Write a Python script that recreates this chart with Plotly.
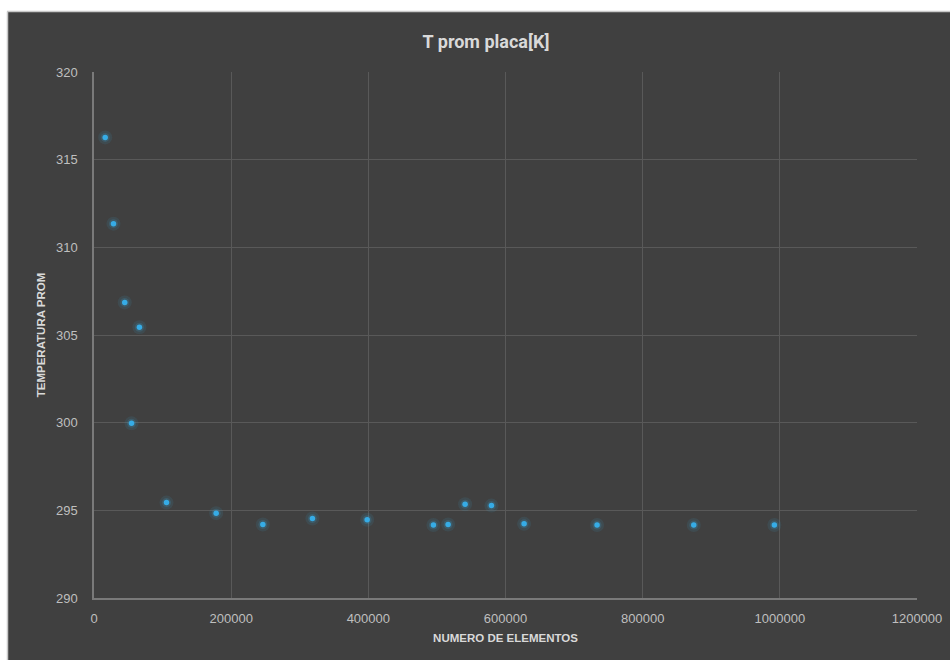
import plotly.graph_objects as go

# Mesh size (number of elements) and mean plate temperature [K]
num_elementos = [16300, 28400, 44800, 54700, 66200, 105700, 178100, 246200,
                 318500, 398300, 494900, 516300, 541100, 579500, 627100,
                 733500, 874500, 992000]
temp_prom = [316.27, 311.35, 306.86, 299.96, 305.44, 295.44, 294.84, 294.19,
             294.53, 294.46, 294.16, 294.19, 295.35, 295.27, 294.23,
             294.16, 294.16, 294.16]

x_ticks = [0, 200000, 400000, 600000, 800000, 1000000, 1200000]
y_ticks = [290, 295, 300, 305, 310, 315, 320]

W, H = 950, 660
L, R, T, B = 94, 33, 72, 62
PW, PH = W - L - R, H - T - B

BG = "#404040"
GRID = "#595959"
AXIS = "#7a7a7a"
TXT = "#bfbfbf"
TITLE = "#d9d9d9"
DOT = "#36ace6"


def px_x(px):
    return (px - L) / PW


def px_y(py):
    return (H - B - py) / PH


fig = go.Figure()

# soft halo around each point
fig.add_trace(go.Scatter(
    x=num_elementos, y=temp_prom, mode="markers",
    marker=dict(size=14, color="rgba(54,172,230,0.10)", line=dict(width=0)),
    hoverinfo="skip", showlegend=False,
))
fig.add_trace(go.Scatter(
    x=num_elementos, y=temp_prom, mode="markers",
    marker=dict(size=9, color="rgba(54,172,230,0.18)", line=dict(width=0)),
    hoverinfo="skip", showlegend=False,
))
fig.add_trace(go.Scatter(
    x=num_elementos, y=temp_prom, mode="markers",
    marker=dict(size=5.5, color=DOT, line=dict(width=0)),
    showlegend=False, name="T prom placa[K]",
))

# white outer frame strips (top and left) with a thin grey edge
shapes = [
    dict(type="rect", xref="paper", yref="paper",
         x0=px_x(0), x1=px_x(W), y0=px_y(12), y1=px_y(0),
         fillcolor="white", line=dict(width=0), layer="above"),
    dict(type="rect", xref="paper", yref="paper",
         x0=px_x(0), x1=px_x(8), y0=px_y(H), y1=px_y(0),
         fillcolor="white", line=dict(width=0), layer="above"),
    dict(type="line", xref="paper", yref="paper",
         x0=px_x(7), x1=px_x(W), y0=px_y(11.5), y1=px_y(11.5),
         line=dict(color="#c8c8c8", width=1.5), layer="above"),
    dict(type="line", xref="paper", yref="paper",
         x0=px_x(7.5), x1=px_x(7.5), y0=px_y(H), y1=px_y(11.5),
         line=dict(color="#c8c8c8", width=1.5), layer="above"),
]

fig.update_layout(
    width=W, height=H,
    margin=dict(l=L, r=R, t=T, b=B, autoexpand=False),
    paper_bgcolor=BG, plot_bgcolor=BG,
    shapes=shapes,
    title=dict(
        text="<b>T prom placa[K]</b>",
        x=486 / W, xanchor="center", xref="container",
        y=1 - 42 / H, yanchor="middle", yref="container",
        font=dict(family="Roboto", size=18, color=TITLE),
    ),
    xaxis=dict(
        range=[0, 1200000], tickvals=x_ticks, tickformat="d",
        showgrid=True, gridcolor=GRID, gridwidth=1,
        showline=True, linecolor=AXIS, linewidth=1.5,
        zeroline=False, ticks="", ticklabelstandoff=8,
        tickfont=dict(family="Liberation Sans", size=13, color=TXT),
        title=dict(text="<b>NUMERO DE ELEMENTOS</b>", standoff=9,
                   font=dict(family="Liberation Sans", size=11.5, color=TITLE)),
    ),
    yaxis=dict(
        range=[290, 320], tickvals=y_ticks,
        showgrid=True, gridcolor=GRID, gridwidth=1,
        showline=True, linecolor=AXIS, linewidth=1.5,
        zeroline=False, ticks="", ticklabelstandoff=12,
        tickfont=dict(family="Liberation Sans", size=13, color=TXT),
        title=dict(text="<b>TEMPERATURA PROM</b>", standoff=8,
                   font=dict(family="Liberation Sans", size=11.5, color=TITLE)),
    ),
)

fig.write_html("out.html")
